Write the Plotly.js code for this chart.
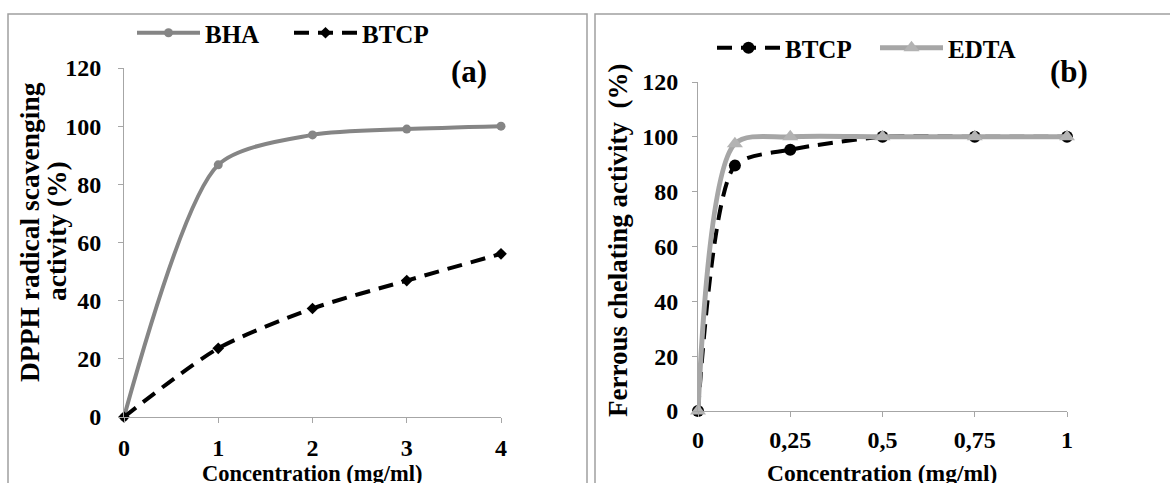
<!DOCTYPE html>
<html>
<head>
<meta charset="utf-8">
<script src="https://cdn.plot.ly/plotly-3.0.1.min.js"></script>
<style>html,body{margin:0;padding:0;background:#fff;overflow:hidden;width:1170px;height:483px}#chart{width:1170px;height:483px;display:block;overflow:hidden}</style>
</head>
<body>
<div id="chart"></div>
<script>
// ---- data ----
const aConc = [0, 1, 2, 3, 4];
const aBHA = [0, 86.7, 97, 99, 100];
const aBTCP = [0, 23.6, 37.3, 46.9, 56.1];

const bConc = [0, 0.1, 0.25, 0.5, 0.75, 1];
const bBTCP = [0, 89.5, 95.3, 100, 100, 100];
const bEDTA = [0, 97.5, 100, 100, 100, 100];

const yTickVals = [0, 20, 40, 60, 80, 100, 120];
const yTickText = ['0', '20', '40', '60', '80', '100', '120'];
const aXTickVals = [0, 1, 2, 3, 4];
const aXTickText = ['0', '1', '2', '3', '4'];
const bXTickVals = [0, 0.25, 0.5, 0.75, 1];
const bXTickText = ['0', '0,25', '0,5', '0,75', '1'];

const seriesNames = ['BHA', 'BTCP', 'BTCP', 'EDTA'];
const xTitle = 'Concentration (mg/ml)';
const aYTitle1 = 'DPPH radical scavenging';
const aYTitle2 = 'activity (%)';
const bYTitle = 'Ferrous chelating activity  (%)';

// ---- layout helpers ----
const W = 1170, H = 483;
const px = v => v / W;
const py = v => (H - v) / H;
const FONT = 'Liberation Serif, Times New Roman, serif';
const AX = '#a6a6a6';

const traces = [
  {x: aConc, y: aBHA, name: seriesNames[0], xaxis: 'x', yaxis: 'y', legend: 'legend',
   mode: 'lines+markers', line: {color: '#858585', width: 4, shape: 'spline', smoothing: 0.75},
   marker: {symbol: 'circle', size: 9, color: '#858585'}, cliponaxis: false},
  {x: aConc, y: aBTCP, name: seriesNames[1], xaxis: 'x', yaxis: 'y', legend: 'legend',
   mode: 'lines+markers', line: {color: '#000', width: 4, dash: '15px,9px', shape: 'spline', smoothing: 0.75},
   marker: {symbol: 'diamond', size: 9, color: '#000'}, cliponaxis: false},
  {x: bConc, y: bBTCP, name: seriesNames[2], xaxis: 'x2', yaxis: 'y2', legend: 'legend2',
   mode: 'lines+markers', line: {color: '#000', width: 4, dash: '15px,9px', shape: 'spline', smoothing: 0.7},
   marker: {symbol: 'circle', size: 12, color: '#000'}, cliponaxis: false},
  {x: bConc, y: bEDTA, name: seriesNames[3], xaxis: 'x2', yaxis: 'y2', legend: 'legend2',
   mode: 'lines+markers', line: {color: '#a6a6a6', width: 5, shape: 'spline', smoothing: 0.8},
   marker: {symbol: 'triangle-up', size: 14, color: '#b3b3b3'}, cliponaxis: false}
];

const tickFont = {family: FONT, size: 24, color: '#000', weight: 'bold'};
function xaxis(domain, range, vals, text, anchor, standoff) {
  return {domain, range, anchor, tickmode: 'array', tickvals: vals, ticktext: text,
    showline: true, linecolor: AX, linewidth: 1, ticks: 'outside', ticklen: 5, tickcolor: AX,
    showgrid: false, zeroline: false, tickfont: tickFont, ticklabelstandoff: standoff, fixedrange: true};
}
function yaxis(domain, anchor, standoff) {
  return {domain, range: [0, 120], anchor, tickmode: 'array', tickvals: yTickVals, ticktext: yTickText,
    showline: true, linecolor: AX, linewidth: 1, ticks: 'outside', ticklen: 5, tickcolor: AX,
    showgrid: false, zeroline: false, tickfont: tickFont, ticklabelstandoff: standoff, fixedrange: true};
}

const legFont = {family: FONT, size: 25, color: '#000', weight: 'bold'};
const titleFont = sz => ({family: FONT, size: sz, color: '#000', weight: 'bold'});
const layout = {
  width: W, height: H,
  margin: {l: 0, r: 0, t: 0, b: 0},
  paper_bgcolor: '#fff', plot_bgcolor: '#fff',
  showlegend: true,
  xaxis: xaxis([px(124), px(501)], [0, 4], aXTickVals, aXTickText, 'y', 4),
  yaxis: yaxis([1 - 417 / H, 1 - 68 / H], 'x', 12),
  xaxis2: xaxis([px(698), px(1067)], [0, 1], bXTickVals, bXTickText, 'y2', 2),
  yaxis2: yaxis([1 - 411 / H, 1 - 82 / H], 'x2', 9),
  legend: {orientation: 'h', x: px(132), y: py(33), xanchor: 'left', yanchor: 'middle',
    font: legFont, itemwidth: 63, entrywidth: 79, entrywidthmode: 'pixels', bgcolor: 'rgba(0,0,0,0)'},
  legend2: {orientation: 'h', x: px(712), y: py(48), xanchor: 'left', yanchor: 'middle',
    font: legFont, itemwidth: 63, entrywidth: 85, entrywidthmode: 'pixels', bgcolor: 'rgba(0,0,0,0)'},
  shapes: [
    {type: 'rect', xref: 'paper', yref: 'paper', x0: px(8), x1: px(587), y0: -0.05, y1: py(14),
     line: {color: '#a0a0a0', width: 1.5}},
    {type: 'rect', xref: 'paper', yref: 'paper', x0: px(595), x1: 1.05, y0: -0.05, y1: py(14),
     line: {color: '#a0a0a0', width: 1.5}}
  ],
  annotations: [
    {text: aYTitle1, xref: 'paper', yref: 'paper', x: px(29), y: py(232), textangle: -90,
     showarrow: false, xanchor: 'center', yanchor: 'middle', font: titleFont(27.5)},
    {text: aYTitle2, xref: 'paper', yref: 'paper', x: px(56), y: py(231), textangle: -90,
     showarrow: false, xanchor: 'center', yanchor: 'middle', font: titleFont(27.5)},
    {text: bYTitle, xref: 'paper', yref: 'paper', x: px(618), y: py(241), textangle: -90,
     showarrow: false, xanchor: 'center', yanchor: 'middle', font: titleFont(27)},
    {text: xTitle, xref: 'paper', yref: 'paper', x: px(312), y: py(473),
     showarrow: false, xanchor: 'center', yanchor: 'middle', font: titleFont(22.5)},
    {text: xTitle, xref: 'paper', yref: 'paper', x: px(882), y: py(473),
     showarrow: false, xanchor: 'center', yanchor: 'middle', font: titleFont(23.5)},
    {text: '(a)', xref: 'paper', yref: 'paper', x: px(469), y: py(71),
     showarrow: false, xanchor: 'center', yanchor: 'middle', font: titleFont(31)},
    {text: '(b)', xref: 'paper', yref: 'paper', x: px(1069), y: py(72),
     showarrow: false, xanchor: 'center', yanchor: 'middle', font: titleFont(31)}
  ]
};

Plotly.newPlot('chart', traces, layout, {displayModeBar: false, staticPlot: true});
</script>
</body>
</html>
